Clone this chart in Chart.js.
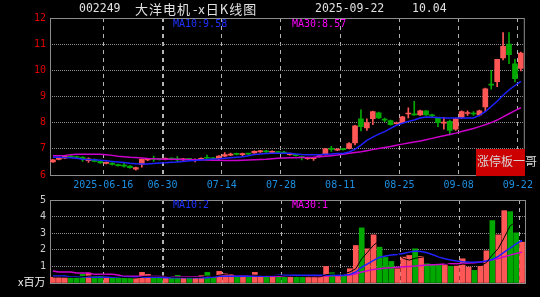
<!DOCTYPE html>
<html lang="zh">
<head>
<meta charset="UTF-8">
<title>002249 大洋电机 日K线图</title>
<style>
  body { margin: 0; background: #000; width: 540px; height: 297px; overflow: hidden; position: relative; }
  .box { position: absolute; left: 0; width: 540px; }
  #priceBox { top: 0; height: 195px; }
  #volBox { top: 190px; height: 107px; }
  .txt { position: absolute; white-space: nowrap; line-height: 1; z-index: 5; }
  .mono { font-family: 'DejaVu Sans Mono', monospace; }
  .cjk { font-family: 'Noto Sans CJK SC', sans-serif; }
  .title { color: #e0e0e0; top: 3px; }
  .title.mono { font-size: 11.5px; }
  .title.cjk { font-size: 13px; letter-spacing: 1px; top: 2px; }
  .ma { font-size: 10px; }
  #stamp { position: absolute; left: 476px; top: 149px; width: 49px; height: 27px; background: #cc0000; z-index: 4; }
</style>
</head>
<body>
  <div class="box" id="priceBox"><canvas id="price"></canvas></div>
  <div class="box" id="volBox"><canvas id="vol"></canvas></div>

  <span class="txt title mono" style="left:79px">002249</span>
  <span class="txt title cjk" style="left:135px">大洋电机</span>
  <span class="txt title cjk" style="left:193px">-x日K线图</span>
  <span class="txt title mono" style="left:315px">2025-09-22</span>
  <span class="txt title mono" style="left:412px">10.04</span>

  <span class="txt mono ma" style="left:173px;top:19px;color:#1e32ff">MA10:9.58</span>
  <span class="txt mono ma" style="left:292px;top:19px;color:#ff00ff">MA30:8.57</span>
  <span class="txt mono ma" style="left:173px;top:200px;color:#1e32ff">MA10:2</span>
  <span class="txt mono ma" style="left:292px;top:200px;color:#ff00ff">MA30:1</span>

  <span class="txt cjk" style="left:18px;top:276px;font-size:11px;color:#f0f0f0">x百万</span>

  <div id="stamp"></div>
  <span class="txt cjk" style="left:477px;top:155px;font-size:12px;color:#d8d8d8">涨停板一哥</span>

  <script src="https://cdn.jsdelivr.net/npm/chart.js"></script>
  <script>
    const dates = [
      '2025-06-03','2025-06-04','2025-06-05','2025-06-06','2025-06-09','2025-06-10','2025-06-11','2025-06-12','2025-06-13','2025-06-16',
      '2025-06-17','2025-06-18','2025-06-19','2025-06-20','2025-06-23','2025-06-24','2025-06-25','2025-06-26','2025-06-27','2025-06-30',
      '2025-07-01','2025-07-02','2025-07-03','2025-07-04','2025-07-07','2025-07-08','2025-07-09','2025-07-10','2025-07-11','2025-07-14',
      '2025-07-15','2025-07-16','2025-07-17','2025-07-18','2025-07-21','2025-07-22','2025-07-23','2025-07-24','2025-07-25','2025-07-28',
      '2025-07-29','2025-07-30','2025-07-31','2025-08-01','2025-08-04','2025-08-05','2025-08-06','2025-08-07','2025-08-08','2025-08-11',
      '2025-08-12','2025-08-13','2025-08-14','2025-08-15','2025-08-18','2025-08-19','2025-08-20','2025-08-21','2025-08-22','2025-08-25',
      '2025-08-26','2025-08-27','2025-08-28','2025-08-29','2025-09-01','2025-09-02','2025-09-03','2025-09-04','2025-09-05','2025-09-08',
      '2025-09-09','2025-09-10','2025-09-11','2025-09-12','2025-09-15','2025-09-16','2025-09-17','2025-09-18','2025-09-19','2025-09-22'
    ];
    const tickDates = ['2025-06-16','2025-06-30','2025-07-14','2025-07-28','2025-08-11','2025-08-25','2025-09-08','2025-09-22'];
    const tickText = ['2025-06-16','06-30','07-14','07-28','08-11','08-25','09-08','09-22'];

    const open = [
      6.50,6.60,6.64,6.72,6.70,6.68,6.55,6.60,6.52,6.44,
      6.46,6.40,6.38,6.34,6.22,6.40,6.58,6.64,6.62,6.60,
      6.64,6.63,6.58,6.62,6.56,6.60,6.66,6.66,6.62,6.72,
      6.76,6.82,6.78,6.82,6.84,6.88,6.92,6.86,6.88,6.88,
      6.78,6.78,6.70,6.62,6.62,6.70,6.78,7.02,6.95,7.00,
      7.02,7.23,8.15,7.80,8.15,8.38,8.12,8.08,7.96,8.00,
      8.33,8.32,8.30,8.45,8.30,8.18,7.98,8.05,7.75,8.20,
      8.35,8.36,8.30,8.60,9.47,9.57,10.47,11.00,10.25,10.07
    ];
    const close = [
      6.58,6.64,6.72,6.68,6.67,6.62,6.62,6.52,6.46,6.48,
      6.40,6.36,6.34,6.28,6.28,6.60,6.62,6.60,6.60,6.64,
      6.61,6.58,6.62,6.60,6.60,6.64,6.64,6.62,6.72,6.78,
      6.80,6.79,6.82,6.80,6.90,6.92,6.88,6.90,6.86,6.84,
      6.82,6.74,6.66,6.66,6.66,6.72,7.00,6.98,6.98,6.97,
      7.20,7.88,7.85,8.00,8.42,8.18,8.10,7.92,7.99,8.22,
      8.36,8.30,8.45,8.30,8.26,8.00,8.02,7.70,8.15,8.42,
      8.38,8.33,8.45,9.29,9.43,10.42,10.92,10.60,9.68,10.66
    ];
    const high = [
      6.60,6.66,6.74,6.74,6.72,6.70,6.66,6.62,6.54,6.50,
      6.47,6.42,6.46,6.36,6.30,6.62,6.64,6.72,6.64,6.66,
      6.66,6.70,6.64,6.63,6.62,6.66,6.76,6.68,6.74,6.86,
      6.84,6.84,6.84,6.83,6.92,6.94,6.94,6.92,6.90,6.90,
      6.84,6.80,6.72,6.68,6.68,6.76,7.02,7.10,7.00,7.02,
      7.24,7.90,8.49,8.15,8.44,8.40,8.18,8.10,8.02,8.24,
      8.57,8.82,8.48,8.46,8.33,8.20,8.20,8.10,8.18,8.45,
      8.45,8.42,8.48,9.32,10.00,10.42,11.44,11.44,10.42,10.70
    ];
    const low = [
      6.48,6.58,6.62,6.66,6.64,6.52,6.48,6.50,6.44,6.42,
      6.38,6.34,6.30,6.26,6.18,6.30,6.55,6.52,6.57,6.58,
      6.58,6.52,6.56,6.58,6.50,6.58,6.56,6.60,6.58,6.70,
      6.74,6.77,6.74,6.78,6.82,6.86,6.86,6.82,6.84,6.82,
      6.76,6.72,6.58,6.60,6.56,6.68,6.76,6.90,6.93,6.95,
      7.00,7.15,7.68,7.70,7.92,8.15,8.04,7.90,7.94,7.98,
      8.18,8.28,8.28,8.28,8.20,7.85,7.75,7.53,7.70,8.15,
      8.28,8.28,8.26,8.42,9.28,9.38,10.40,10.25,9.56,9.98
    ];
    const ma10 = [
      6.68,6.68,6.67,6.66,6.64,6.60,6.59,6.58,6.56,6.54,
      6.52,6.50,6.48,6.45,6.43,6.42,6.42,6.44,6.46,6.47,
      6.49,6.50,6.52,6.54,6.55,6.57,6.59,6.61,6.62,6.64,
      6.66,6.68,6.70,6.74,6.78,6.80,6.82,6.83,6.83,6.83,
      6.83,6.80,6.78,6.77,6.77,6.77,6.79,6.80,6.82,6.82,
      6.88,6.98,7.14,7.32,7.45,7.56,7.66,7.78,7.90,7.98,
      8.05,8.10,8.18,8.22,8.21,8.20,8.18,8.18,8.18,8.18,
      8.18,8.18,8.28,8.42,8.62,8.82,9.05,9.25,9.42,9.58
    ];
    const ma30 = [
      6.74,6.74,6.75,6.77,6.79,6.79,6.79,6.79,6.79,6.77,
      6.75,6.72,6.70,6.68,6.67,6.65,6.63,6.62,6.61,6.60,
      6.60,6.60,6.59,6.59,6.58,6.58,6.57,6.56,6.56,6.55,
      6.55,6.55,6.56,6.57,6.58,6.59,6.60,6.62,6.64,6.65,
      6.66,6.66,6.67,6.67,6.68,6.70,6.72,6.74,6.76,6.79,
      6.83,6.86,6.89,6.93,6.97,7.01,7.05,7.09,7.14,7.18,
      7.22,7.26,7.30,7.35,7.40,7.45,7.50,7.55,7.60,7.66,
      7.72,7.78,7.85,7.92,8.00,8.10,8.22,8.34,8.46,8.57
    ];

    // volume, millions of shares
    const volume = [
      0.35,0.36,0.35,0.34,0.35,0.52,0.60,0.40,0.40,0.35,
      0.34,0.35,0.34,0.30,0.30,0.64,0.52,0.34,0.35,0.34,
      0.35,0.46,0.30,0.30,0.31,0.44,0.64,0.34,0.70,0.56,
      0.52,0.40,0.40,0.40,0.64,0.44,0.40,0.40,0.40,0.40,
      0.40,0.36,0.40,0.36,0.36,0.36,1.00,0.62,0.40,0.40,
      0.86,2.26,3.32,2.06,2.90,2.16,1.54,1.30,0.86,1.56,
      1.66,2.06,1.60,1.16,1.10,1.10,1.06,1.00,1.06,1.46,
      0.96,0.76,1.02,1.94,3.76,2.90,4.36,4.30,3.02,2.46
    ];
    const volMa5 = [
      0.36,0.36,0.35,0.34,0.34,0.38,0.42,0.44,0.46,0.46,
      0.40,0.36,0.33,0.32,0.30,0.37,0.41,0.41,0.42,0.42,
      0.36,0.35,0.34,0.34,0.33,0.35,0.42,0.40,0.47,0.53,
      0.55,0.50,0.52,0.50,0.47,0.46,0.46,0.46,0.46,0.41,
      0.40,0.39,0.39,0.38,0.38,0.37,0.50,0.54,0.55,0.56,
      0.66,0.86,1.46,1.86,2.28,2.54,2.40,1.99,1.76,1.48,
      1.38,1.49,1.55,1.61,1.52,1.40,1.20,1.08,1.06,1.14,
      1.11,1.06,1.05,1.23,1.69,2.08,2.74,3.45,3.67,3.41
    ];
    const volMa10 = [
      0.42,0.42,0.42,0.36,0.36,0.36,0.36,0.35,0.34,0.34,
      0.34,0.34,0.34,0.34,0.34,0.34,0.34,0.34,0.34,0.32,
      0.32,0.32,0.32,0.32,0.32,0.32,0.32,0.36,0.40,0.40,
      0.40,0.40,0.40,0.40,0.40,0.40,0.42,0.44,0.46,0.46,
      0.46,0.46,0.46,0.46,0.46,0.46,0.46,0.46,0.46,0.46,
      0.52,0.66,0.95,1.15,1.36,1.55,1.62,1.68,1.72,1.78,
      1.86,1.92,1.90,1.82,1.70,1.56,1.46,1.38,1.32,1.28,
      1.26,1.25,1.26,1.32,1.42,1.60,1.86,2.10,2.36,2.56
    ];
    const volMa30 = [
      0.72,0.66,0.66,0.66,0.60,0.60,0.60,0.52,0.52,0.52,
      0.52,0.48,0.40,0.40,0.40,0.40,0.40,0.40,0.40,0.36,
      0.36,0.36,0.36,0.36,0.36,0.36,0.36,0.36,0.40,0.40,
      0.40,0.40,0.40,0.40,0.40,0.40,0.40,0.40,0.40,0.40,
      0.40,0.40,0.40,0.40,0.40,0.40,0.42,0.43,0.44,0.45,
      0.48,0.56,0.66,0.74,0.82,0.86,0.90,0.92,0.95,0.98,
      1.00,1.02,1.05,1.08,1.10,1.12,1.14,1.16,1.16,1.18,
      1.20,1.22,1.26,1.32,1.40,1.48,1.58,1.68,1.78,1.86
    ];

    const RED = '#ff5656';
    const GREEN = '#00a800';
    const BLUE = '#2020ff';
    const MAGENTA = '#cc00cc';
    const upColors = open.map((o, i) => close[i] >= o ? RED : GREEN);

    const isTick = i => i < dates.length && tickDates.includes(dates[i]);
    const MONO = 'DejaVu Sans Mono';

    // gray frame around each plot area
    const framePlugin = {
      id: 'frame',
      beforeDatasetsDraw(chart) {
        const { ctx, chartArea: a } = chart;
        ctx.save();
        ctx.strokeStyle = '#8c8c8c';
        ctx.lineWidth = 1;
        ctx.strokeRect(a.left + 0.5, a.top + 0.5, a.right - a.left, a.bottom - a.top);
        ctx.restore();
      }
    };

    function xAxis(showLabels) {
      return {
        type: 'category',
        offset: true,
        afterFit: s => { s.height = showLabels ? 20 : 0; },
        grid: {
          offset: true,
          drawTicks: false,
          color: c => isTick(c.index) ? '#b4b4b4' : 'transparent',
          lineWidth: c => c.index === 19 ? 2 : 1
        },
        border: { display: false, dash: [4, 4] },
        ticks: {
          display: showLabels,
          autoSkip: false,
          maxRotation: 0,
          minRotation: 0,
          padding: 4,
          labelOffset: -3,
          color: '#1e8fe0',
          font: { family: MONO, size: 10 },
          callback: function (value, index) {
            const k = tickDates.indexOf(dates[index]);
            return k >= 0 ? tickText[k] : '';
          }
        }
      };
    }

    function lineSet(data, color, width) {
      return { type: 'line', data: data, borderColor: color, borderWidth: width, pointRadius: 0, tension: 0, order: 1 };
    }

    new Chart(document.getElementById('price'), {
      type: 'bar',
      data: {
        labels: dates,
        datasets: [
          { label: 'wick', data: dates.map((d, i) => [low[i], high[i]]), backgroundColor: upColors,
            barThickness: 1, grouped: false, order: 3 },
          { label: 'body', data: dates.map((d, i) => [Math.min(open[i], close[i]), Math.max(open[i], close[i])]),
            backgroundColor: upColors, barThickness: 5, minBarLength: 1, grouped: false, order: 2 },
          lineSet(ma10, BLUE, 1.5),
          lineSet(ma30, MAGENTA, 1.5)
        ]
      },
      options: {
        responsive: true,
        maintainAspectRatio: false,
        animation: false,
        layout: { padding: { top: 18, right: 15, left: 0, bottom: 0 } },
        plugins: { legend: { display: false }, tooltip: { enabled: false } },
        scales: {
          x: xAxis(true),
          y: {
            min: 6, max: 12,
            afterFit: s => { s.width = 50; },
            grid: {
              drawTicks: false,
              color: c => (c.tick && c.tick.value > 6 && c.tick.value < 12) ? '#8a8a8a' : 'transparent'
            },
            border: { display: false, dash: [1, 1] },
            ticks: { stepSize: 1, padding: 4, color: '#e00000', font: { family: MONO, size: 10 } }
          }
        }
      },
      plugins: [framePlugin]
    });

    new Chart(document.getElementById('vol'), {
      type: 'bar',
      data: {
        labels: dates,
        datasets: [
          { label: 'volume', data: volume, backgroundColor: upColors, barThickness: 5, order: 2 },
          lineSet(volMa5, '#000000', 1),
          lineSet(volMa10, BLUE, 1.5),
          lineSet(volMa30, MAGENTA, 1.5)
        ]
      },
      options: {
        responsive: true,
        maintainAspectRatio: false,
        animation: false,
        layout: { padding: { top: 9, right: 15, left: 0, bottom: 14 } },
        plugins: { legend: { display: false }, tooltip: { enabled: false } },
        scales: {
          x: xAxis(false),
          y: {
            min: 0, max: 5,
            afterFit: s => { s.width = 50; },
            grid: {
              drawTicks: false,
              color: c => (c.tick && c.tick.value > 0 && c.tick.value < 5) ? '#8a8a8a' : 'transparent'
            },
            border: { display: false, dash: [1, 1] },
            ticks: {
              stepSize: 1, padding: 4, color: '#cccccc', font: { family: MONO, size: 10 },
              callback: v => v === 0 ? '' : v
            }
          }
        }
      },
      plugins: [framePlugin]
    });
  </script>
</body>
</html>
